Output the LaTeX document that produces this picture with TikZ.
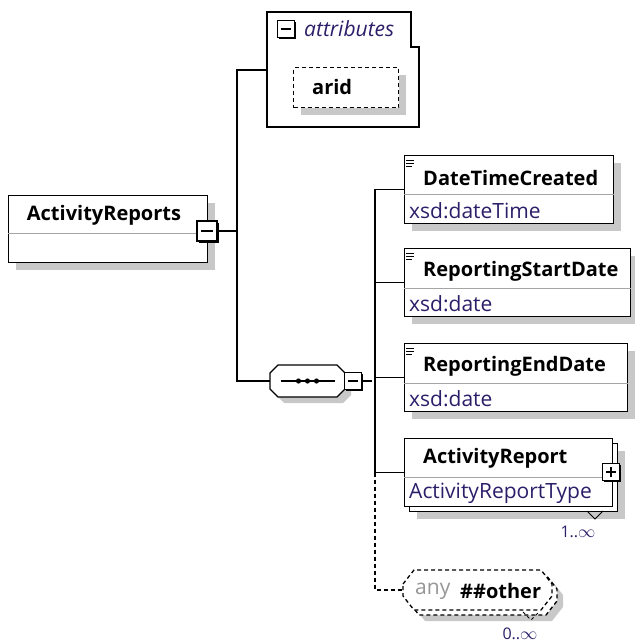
\documentclass[tikz,border=0pt]{standalone}
\usepackage{fontspec}
\setmainfont{Open Sans}
\usetikzlibrary{shadows,positioning}
\definecolor{shadowGray}{RGB}{200,200,200}
\definecolor{lineGray}{RGB}{165,165,165}
\definecolor{typeBlue}{RGB}{45,30,105}
\definecolor{anyGray}{RGB}{150,150,150}
\tikzset{
     elemBox/.style =
        { draw
        , fill=white
        , line width=1.3pt
        , anchor=north west
        , inner sep=0pt
        , minimum height=68pt
        }
   , withShadow/.style =
        { drop shadow={shadow xshift=7pt, shadow yshift=-7pt, opacity=1, fill=shadowGray}
        }
   , iconBox/.style =
        { draw
        , fill=white
        , line width=1.3pt
        , minimum size=17pt
        , inner sep=0pt
        , drop shadow={shadow xshift=1.5pt, shadow yshift=-1.5pt, opacity=1, fill=black}
        }
   , hook/.style =
        { inner sep=0pt
        }
   , titleText/.style =
        { anchor=west
        , inner sep=0pt
        , font=\bfseries\fontsize{20}{24}\selectfont
        }
   , typeText/.style =
        { anchor=west
        , inner sep=0pt
        , text=typeBlue
        , font=\fontsize{21}{25}\selectfont
        }
   , multText/.style =
        { inner sep=0pt
        , text=typeBlue
        , font=\fontsize{16}{19}\selectfont
        }
   , divider/.style = {lineGray, line width=1pt}
   , signLine/.style = {line width=1.5pt}
   , link/.style = {line width=1.3pt}
   , optLink/.style = {line width=1.3pt, dash pattern=on 4pt off 3pt}
   , facetMark/.style = {line width=0.9pt}
}

\begin{document}
\begin{tikzpicture}
            [ x=1pt
            , y=-1pt
            ]
            \useasboundingbox (0,0) rectangle (634,644);

            % root element
            \node[elemBox, withShadow, minimum width=199pt, minimum height=67pt] (root) at (8,195) {};
            \draw[divider] ([yshift=-38pt]root.north west) -- ([yshift=-38pt]root.north east);
            \node[titleText, anchor=center] (rootName) at (104,215) {ActivityReports};
            \node[iconBox, minimum size=20pt] (rootMinus) at (207,231) {};
            \draw[signLine] ([xshift=-6pt]rootMinus.center) -- ([xshift=6pt]rootMinus.center);

            % attributes
            \draw[line width=1.3pt] (267,12) -- (411,12) -- (411,47) -- (419,47) -- (419,127) -- (267,127) -- cycle;
            \coordinate (attrIn) at (267,70);
            \node[iconBox] (attrMinus) at (286,29) {};
            \draw[signLine] ([xshift=-5pt]attrMinus.center) -- ([xshift=5pt]attrMinus.center);
            \node[typeText, font=\itshape\fontsize{21}{25}\selectfont] (attrLabel) at (304,29) {attributes};
            \node[elemBox, withShadow, optLink, minimum width=105pt, minimum height=40pt] (arid) at (293,67) {};
            \node[titleText] (aridName) at (312,87) {arid};

            % sequence
            \fill[shadowGray, shift={(6,6)}] (270,373) -- (278,365) -- (337,365) -- (345,373) -- (345,389) -- (337,397) -- (278,397) -- (270,389) -- cycle;
            \draw[link, fill=white] (270,373) -- (278,365) -- (337,365) -- (345,373) -- (345,389) -- (337,397) -- (278,397) -- (270,389) -- cycle;
            \node[hook, minimum width=75pt, minimum height=33pt] (seq) at (307.5,381) {};
            \draw[link] ([xshift=-27pt]seq.center) -- ([xshift=27pt]seq.center);
            \foreach \dx in {-9,0,9}
                \fill ([xshift=\dx pt]seq.center) circle (2.6pt);
            \node[iconBox] (seqMinus) at (353,381) {};
            \draw[signLine] ([xshift=-5pt]seqMinus.center) -- ([xshift=5pt]seqMinus.center);

            \coordinate (rootBus) at (237,231);
            \draw[link] (rootMinus.east) -- (rootBus);
            \draw[link] (attrIn) -| (rootBus) |- (seq.west);

            % child elements
            \node[elemBox, withShadow, minimum width=209pt] (dtc) at (404,155) {};
            \draw[divider] ([yshift=-40pt]dtc.north west) -- ([yshift=-40pt]dtc.north east);
            \draw[facetMark] (406,160) -- (414,160) (406,163) -- (414,163) (406,166) -- (412,166);
            \node[titleText] (dtcName) at ([xshift=19pt,yshift=-23pt]dtc.north west) {DateTimeCreated};
            \node[typeText] (dtcType) at ([xshift=5pt,yshift=-56pt]dtc.north west) {xsd:dateTime};

            \node[elemBox, withShadow, minimum width=226pt] (rsd) at (404,248) {};
            \draw[divider] ([yshift=-40pt]rsd.north west) -- ([yshift=-40pt]rsd.north east);
            \draw[facetMark] (406,253) -- (414,253) (406,256) -- (414,256) (406,259) -- (412,259);
            \node[titleText] (rsdName) at ([xshift=19pt,yshift=-23pt]rsd.north west) {ReportingStartDate};
            \node[typeText] (rsdType) at ([xshift=5pt,yshift=-56pt]rsd.north west) {xsd:date};

            \node[elemBox, withShadow, minimum width=223pt] (red) at (404,343) {};
            \draw[divider] ([yshift=-40pt]red.north west) -- ([yshift=-40pt]red.north east);
            \draw[facetMark] (406,348) -- (414,348) (406,351) -- (414,351) (406,354) -- (412,354);
            \node[titleText] (redName) at ([xshift=19pt,yshift=-23pt]red.north west) {ReportingEndDate};
            \node[typeText] (redType) at ([xshift=5pt,yshift=-56pt]red.north west) {xsd:date};

            \node[elemBox, withShadow, minimum width=208pt] (arBack) at (409,443) {};
            \node[elemBox, minimum width=208pt] (ar) at (404,438) {};
            \draw[divider] ([yshift=-39pt]ar.north west) -- ([yshift=-39pt]ar.north east);
            \node[titleText] (arName) at ([xshift=19pt,yshift=-20pt]ar.north west) {ActivityReport};
            \node[typeText] (arType) at ([xshift=5pt,yshift=-55pt]ar.north west) {ActivityReportType};
            \node[iconBox] (arPlus) at (611,472) {};
            \draw[signLine] ([xshift=-5pt]arPlus.center) -- ([xshift=5pt]arPlus.center)
                            ([yshift=-5pt]arPlus.center) -- ([yshift=5pt]arPlus.center);
            \draw[facetMark] (587,511) -- (595,519) -- (603,511);
            \node[multText] (arMult) at (578,532) {1..$\infty$};

            % any
            \fill[shadowGray, shift={(11,11)}] (403,584) -- (414,570) -- (541,570) -- (552,584) -- (552,596) -- (541,610) -- (414,610) -- (403,596) -- cycle;
            \draw[optLink, fill=white, shift={(5,5)}] (403,584) -- (414,570) -- (541,570) -- (552,584) -- (552,596) -- (541,610) -- (414,610) -- (403,596) -- cycle;
            \draw[optLink, fill=white] (403,584) -- (414,570) -- (541,570) -- (552,584) -- (552,596) -- (541,610) -- (414,610) -- (403,596) -- cycle;
            \node[hook, minimum width=149pt, minimum height=40pt] (anyEl) at (477.5,590) {};
            \node[typeText, text=anyGray] (anyLabel) at (415,591) {any};
            \node[titleText] (anyName) at (460,591) {\#\#other};
            \draw[facetMark, dashed] (523,612) -- (531,620) -- (539,612);
            \node[multText] (anyMult) at (520,634) {0..$\infty$};

            \draw[link] (seqMinus.east) -- ++(10,0);
            \draw[link] (dtc.west) -- ++(-29,0) |- (ar.west);
            \draw[link] (rsd.west) -- ++(-29,0);
            \draw[link] (red.west) -- ++(-29,0);
            \draw[optLink] (ar.west) ++(-29,0) |- (anyEl.west);
\end{tikzpicture}
\end{document}
